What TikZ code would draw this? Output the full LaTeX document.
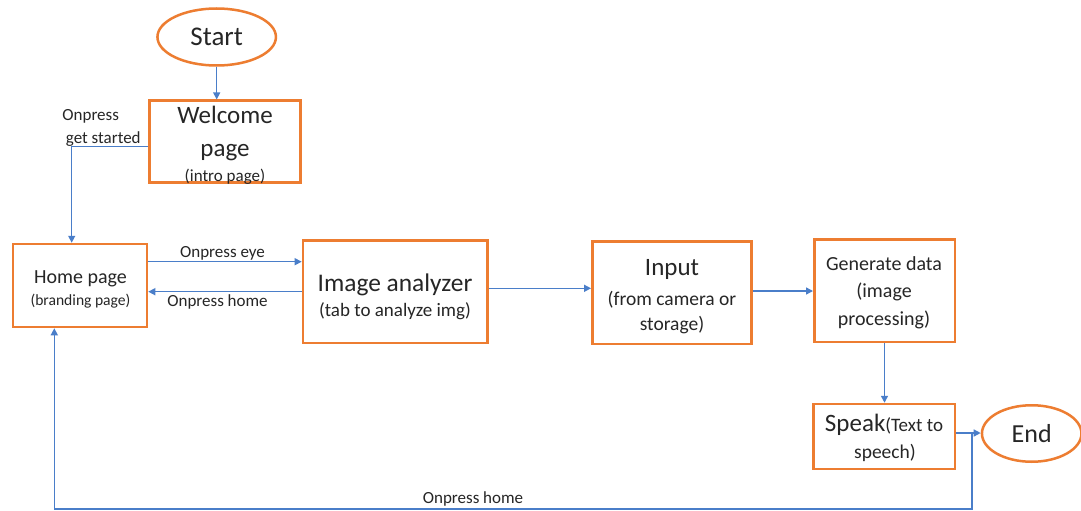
\documentclass[tikz,border=0pt]{standalone}
\usepackage{fontspec}
\setmainfont{Carlito}
\usetikzlibrary{shapes.geometric,arrows.meta,calc}
\definecolor{boxorange}{HTML}{ED7D31}
\definecolor{lineblue}{HTML}{4A7EC9}
\definecolor{txtgray}{HTML}{262626}
\newcommand{\fsz}[1]{\fontsize{#1}{#1}\selectfont}
\begin{document}
\begin{tikzpicture}[x=1pt,y=-1pt,
  box/.style={draw=boxorange, line width=2.5pt, inner sep=0pt},
  term/.style={ellipse, draw=boxorange, line width=2.5pt, inner sep=0pt, text=txtgray},
  conn/.style={draw=lineblue, line width=1.4pt, -{Triangle[length=7pt,width=7pt]}},
  txt/.style={text=txtgray, inner sep=0pt, anchor=base},
]
\fill[white] (0,0) rectangle (1081,511);
\useasboundingbox (0,0) rectangle (1081,511);

% terminals
\node[term, minimum width=118.5pt, minimum height=57pt, font=\fsz{27}] (start) at (216.7,37) {Start};
\node[term, minimum width=99.5pt, minimum height=56.5pt, font=\fsz{26}] (end) at (1031.7,433.5) {End};

% boxes
\node[box, minimum width=151pt, minimum height=82pt] (welcome) at (225,141.7) {};
\node[box, minimum width=134pt, minimum height=83pt] (home) at (80,285.5) {};
\node[box, minimum width=184.3pt, minimum height=102.2pt] (image) at (395.1,291.7) {};
\node[box, minimum width=159.2pt, minimum height=102.5pt] (input) at (671.9,292.5) {};
\node[box, minimum width=140.5pt, minimum height=102.5pt] (generate) at (884.5,290.8) {};
\node[box, minimum width=141.5pt, minimum height=64.8pt] (speak) at (884,436.4) {};

% box texts
\node[txt, font=\fsz{25}] (t1) at (225,123) {Welcome};
\node[txt, font=\fsz{25}] (t2) at (225,156.7) {page};
\node[txt, font=\fsz{17}] (t3) at (225,181) {(intro page)};
\node[txt, font=\fsz{20}] (t4) at (80.5,283.3) {Home page};
\node[txt, font=\fsz{15.6}] (t5) at (80.5,305) {(branding page)};
\node[txt, font=\fsz{25.4}] (t6) at (395,291.7) {Image analyzer};
\node[txt, font=\fsz{19}] (t7) at (395,316.7) {(tab to analyze img)};
\node[txt, font=\fsz{25}] (t8) at (672,275) {Input};
\node[txt, font=\fsz{19.5}] (t9) at (672,305) {(from camera or};
\node[txt, font=\fsz{19.5}] (t10) at (672,330) {storage)};
\node[txt, font=\fsz{20}] (t11) at (884,270) {Generate data};
\node[txt, font=\fsz{20}] (t12) at (884,297.3) {(image};
\node[txt, font=\fsz{20}] (t13) at (884,325) {processing)};
\node[txt, font=\fsz{25}] (t14) at (884,431.7) {Speak{\fsz{19}(Text to}};
\node[txt, font=\fsz{19.5}] (t15) at (885,458.3) {speech)};

% connector labels
\node[txt, font=\fsz{17}] (l1) at (90.7,120.7) {Onpress};
\node[txt, font=\fsz{17}] (l2) at (103.3,143.3) {get started};
\node[txt, font=\fsz{17}] (l3) at (222.5,257.3) {Onpress eye};
\node[txt, font=\fsz{17}] (l4) at (217.5,306) {Onpress home};
\node[txt, font=\fsz{17}] (l5) at (473,503.3) {Onpress home};

% connectors
\draw[conn] (start.south) -- (start.south |- welcome.north);
\draw[conn] ($(welcome.west)+(0,5)$) -| ($(home.north)+(-8.3,0)$);
\draw[conn] ($(home.east)+(0,-23.8)$) coordinate (a1) -- (a1 -| image.west);
\draw[conn] (image.west) -- (image.west -| home.east);
\draw[conn] ($(image.east)+(0,-3.4)$) coordinate (a2) -- (a2 -| input.west);
\draw[conn] ($(input.east)+(0,-1.5)$) coordinate (a3) -- (a3 -| generate.west);
\draw[conn] (generate.south) -- (generate.south |- speak.north);
\draw[conn] ($(speak.east)+(0,-3.4)$) coordinate (a4) -- (a4 -| end.west);
\coordinate (j) at ($(speak.east)+(16,-3.4)$);
\coordinate (c1) at ($(j)+(0,76)$);
\draw[conn] (j) -- (c1) -| ($(home.south)+(-25.7,0)$);
\end{tikzpicture}
\end{document}
